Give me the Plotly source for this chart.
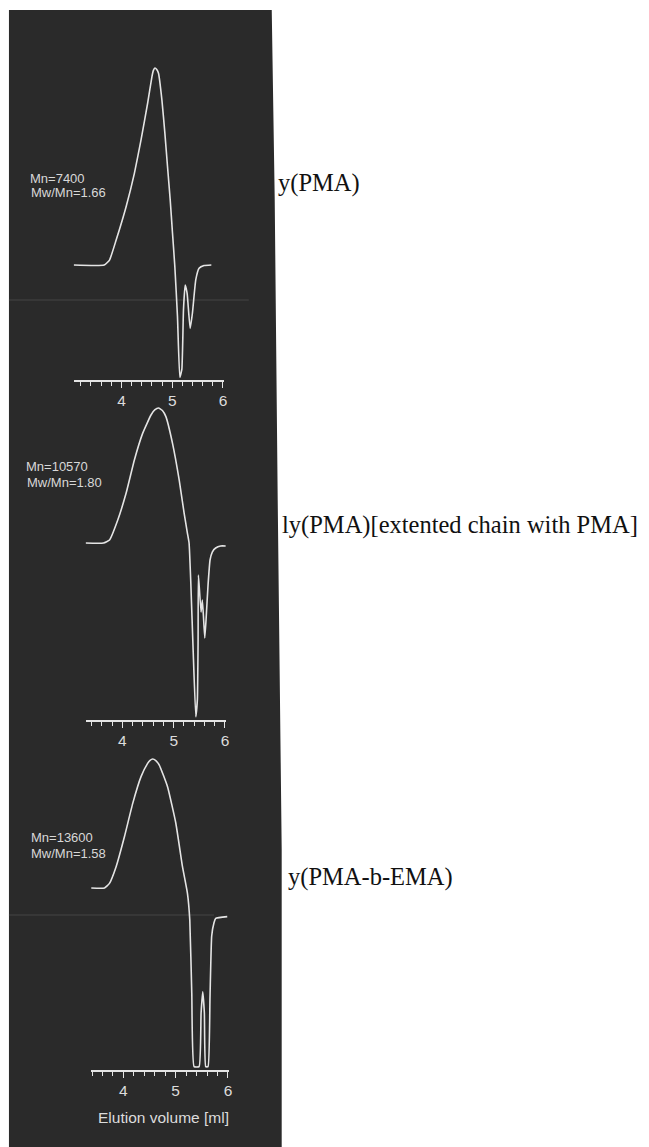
import plotly.graph_objects as go

W, H = 649, 1147

# ---------------- data (elution volume [ml], detector signal, peak = 100) ----------------
p1_ml = [3.06, 3.66, 3.765, 3.896, 4.092, 4.255, 4.386, 4.516, 4.601, 4.63, 4.66, 4.695, 4.73,
         4.797, 4.856, 4.908, 4.961, 5.006, 5.052, 5.104, 5.15, 5.19, 5.222, 5.255, 5.294,
         5.353, 5.398, 5.464, 5.529, 5.627, 5.771]
p1_sig = [0, 0, 2.5, 12.7, 29.6, 46.5, 63.5, 82.1, 95.6, 98.8, 100, 99.2, 97.3,
          83.8, 66.8, 49.9, 33, 16.1, -0.8, -26.2, -57, -53, -22.8, -10.2, -14.4,
          -32.2, -24.5, -7.6, -1.7, -0.3, 0]

p2_ml = [3.282, 3.631, 3.748, 3.909, 4.071, 4.233, 4.394, 4.557, 4.63, 4.705, 4.78, 4.848,
         4.977, 5.107, 5.204, 5.268, 5.30, 5.334, 5.379, 5.431, 5.462, 5.476, 5.482, 5.534,
         5.56, 5.606, 5.631, 5.67, 5.709, 5.753, 5.819, 5.916, 6.014]
p2_sig = [0, 0, 2.2, 17, 36.8, 61.5, 81.2, 94.8, 98.6, 100, 98.2, 93.6,
          73.8, 46.7, 22, 7.2, 0, -29.6, -79, -128.7, -116, -71.9, -23.7, -51.1,
          -42.2, -70.4, -57, -31.1, -12.6, -6.7, -3.7, -2.2, -2.2]

p3_ml = [3.385, 3.638, 3.733, 3.86, 4.019, 4.178, 4.337, 4.463, 4.51, 4.558, 4.62, 4.686,
         4.844, 5.003, 5.13, 5.225, 5.27, 5.308, 5.352, 5.448, 5.486, 5.518, 5.549, 5.575,
         5.619, 5.657, 5.689, 5.733, 5.766, 5.987]
p3_sig = [0, 0, 3.6, 16.5, 39.7, 65.6, 86.3, 96.6, 99, 100, 98.8, 95.3,
          78.5, 50.2, 16.5, -4.1, -24.8, -81.6, -138.5, -138.5, -97, -80.4, -97, -138.5,
          -138.5, -84, -37.2, -26.9, -23.5, -22.2]

mn_labels = ["Mn=7400", "Mn=10570", "Mn=13600"]
pdi_labels = ["Mw/Mn=1.66", "Mw/Mn=1.80", "Mw/Mn=1.58"]
sample_labels = ["y(PMA)", "ly(PMA)[extented chain with PMA]", "y(PMA-b-EMA)"]
tick_vals = [4, 5, 6]
tick_text = ["4", "5", "6"]
x_title = "Elution volume [ml]"

# ---------------- layout geometry (pixels) ----------------
panels = [
    dict(x=p1_ml, y=p1_sig, p4=122, sx=51.0, a0=74, a1=225, base=265, sy=1.97, bot=380, top=55,
         mn=(28, 178), pdi=(29, 193), lab=(277, 183)),
    dict(x=p2_ml, y=p2_sig, p4=123, sx=51.5, a0=86, a1=227, base=543, sy=1.35, bot=720, top=398,
         mn=(24, 466), pdi=(25, 482), lab=(281, 525)),
    dict(x=p3_ml, y=p3_sig, p4=124, sx=52.5, a0=91, a1=230, base=888, sy=1.29, bot=1070, top=745,
         mn=(29, 837), pdi=(29, 853), lab=(287, 877)),
]

CURVE = "#e4e4e4"
DARK = "#2a2a2a"

fig = go.Figure()
layout = dict(
    width=W, height=H,
    margin=dict(l=0, r=0, t=0, b=0),
    paper_bgcolor="white",
    plot_bgcolor="rgba(0,0,0,0)",
    showlegend=False,
    font=dict(family="Liberation Sans, Arial, sans-serif", color="#dcdcdc"),
)

annotations = []
for i, p in enumerate(panels, start=1):
    xa = "x" if i == 1 else f"x{i}"
    ya = "y" if i == 1 else f"y{i}"
    fig.add_trace(go.Scatter(
        x=p["x"], y=p["y"], mode="lines", xaxis=xa, yaxis=ya,
        line=dict(color=CURVE, width=1.6, shape="spline", smoothing=0.4),
        hoverinfo="skip", cliponaxis=False,
    ))
    xr = [4 + (p["a0"] - p["p4"]) / p["sx"], 4 + (p["a1"] - p["p4"]) / p["sx"]]
    yr = [(p["base"] - p["bot"]) / p["sy"], (p["base"] - p["top"]) / p["sy"]]
    key = "xaxis" if i == 1 else f"xaxis{i}"
    ykey = "yaxis" if i == 1 else f"yaxis{i}"
    layout[key] = dict(
        domain=[p["a0"] / W, p["a1"] / W], range=xr, anchor=ya,
        showline=True, linecolor=CURVE, linewidth=1.5,
        ticks="outside", ticklen=6, tickwidth=1.4, tickcolor=CURVE,
        tickvals=tick_vals, ticktext=tick_text,
        tickfont=dict(size=15.5, color="#dcdcdc"),
        minor=dict(ticks="outside", dtick=0.2, tick0=0, ticklen=4, tickwidth=1.1,
                   tickcolor=CURVE, showgrid=False),
        showgrid=False, zeroline=False, fixedrange=True,
    )
    layout[ykey] = dict(
        domain=[1 - p["bot"] / H, 1 - p["top"] / H], range=yr, anchor=xa,
        visible=False, showgrid=False, zeroline=False, fixedrange=True,
    )
    for txt, pos in ((mn_labels[i - 1], p["mn"]), (pdi_labels[i - 1], p["pdi"])):
        annotations.append(dict(
            text=txt, xref="paper", yref="paper", x=pos[0] / W, y=1 - pos[1] / H,
            xanchor="left", yanchor="middle", showarrow=False,
            font=dict(size=13, color="#d8d8d8", family="Liberation Sans, Arial, sans-serif"),
        ))
    annotations.append(dict(
        text=sample_labels[i - 1], xref="paper", yref="paper",
        x=p["lab"][0] / W, y=1 - p["lab"][1] / H,
        xanchor="left", yanchor="middle", showarrow=False,
        font=dict(size=24.5, color="#111111", family="Liberation Serif, Times New Roman, serif"),
    ))

annotations.append(dict(
    text=x_title, xref="paper", yref="paper", x=164 / W, y=1 - 1117 / H,
    xanchor="center", yanchor="middle", showarrow=False,
    font=dict(size=15.5, color="#dcdcdc", family="Liberation Sans, Arial, sans-serif"),
))

# dark scanned panel behind the chromatograms
edge = [(9, 10), (273, 10), (276, 200), (279, 500), (283, 850), (283, 1147), (9, 1147)]
path = "M " + " L ".join(f"{x / W:.5f},{1 - y / H:.5f}" for x, y in edge) + " Z"
shapes = [
    dict(type="path", path=path, xref="paper", yref="paper", fillcolor=DARK,
         line=dict(width=0), layer="below"),
    dict(type="line", xref="paper", yref="paper", x0=9 / W, x1=250 / W,
         y0=1 - 300 / H, y1=1 - 300 / H, line=dict(color="#444444", width=1), layer="below"),
    dict(type="line", xref="paper", yref="paper", x0=9 / W, x1=215 / W,
         y0=1 - 915 / H, y1=1 - 915 / H, line=dict(color="#444444", width=1), layer="below"),
]

layout["annotations"] = annotations
layout["shapes"] = shapes
fig.update_layout(**layout)

fig.write_html("out.html", config={"displayModeBar": False})
